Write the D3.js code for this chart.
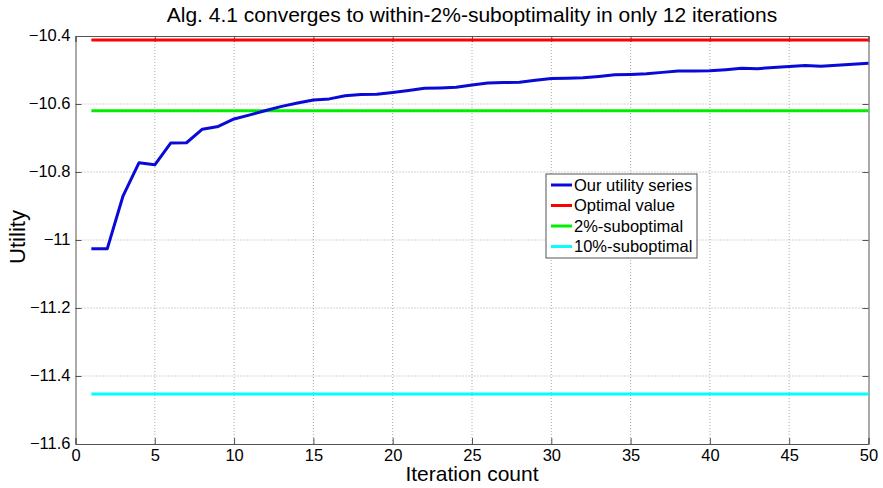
<!DOCTYPE html>
<html><head><meta charset="utf-8">
<script src="https://cdn.jsdelivr.net/npm/d3@7"></script>
<style>body{margin:0;background:#fff;} svg{display:block;} text{font-family:"Liberation Sans",Arial,sans-serif;}</style>
</head><body>
<script>
const iterations = d3.range(1, 51);
const utility = [-11.026,-11.026,-10.870,-10.773,-10.779,-10.715,-10.714,-10.674,-10.666,-10.644,
  -10.632,-10.619,-10.607,-10.597,-10.588,-10.585,-10.576,-10.572,-10.571,-10.566,
  -10.560,-10.554,-10.553,-10.551,-10.544,-10.538,-10.537,-10.536,-10.530,-10.525,
  -10.524,-10.523,-10.519,-10.514,-10.513,-10.511,-10.507,-10.503,-10.503,-10.502,
  -10.499,-10.495,-10.496,-10.493,-10.490,-10.487,-10.489,-10.486,-10.483,-10.480];
const optimalValue = -10.412;
const subopt2 = -10.620;
const subopt10 = -11.453;
const xTicks = [0,5,10,15,20,25,30,35,40,45,50];
const yTicks = [-10.4,-10.6,-10.8,-11,-11.2,-11.4,-11.6];
const legendLabels = ["Our utility series","Optimal value","2%-suboptimal","10%-suboptimal"];
const colors = ["#0a0ad8","#ff0000","#00ee00","#00ffff"];

const W = 883, H = 488;
const m = {left:75.5, right:W-868.5, top:36, bottom:H-444};
const svg = d3.select("body").append("svg").attr("width",W).attr("height",H);
const x = d3.scaleLinear().domain([0,50]).range([m.left, W-m.right]);
const y = d3.scaleLinear().domain([-11.6,-10.4]).range([H-m.bottom, m.top]);

// grid
const g = svg.append("g");
g.selectAll(".gx").data(xTicks.slice(1,-1)).join("line")
 .attr("x1",d=>x(d)).attr("x2",d=>x(d)).attr("y1",y(-11.6)).attr("y2",y(-10.4))
 .attr("stroke","#aaa").attr("stroke-width",1).attr("stroke-dasharray","1,2");
g.selectAll(".gy").data(yTicks.slice(1,-1)).join("line")
 .attr("y1",d=>y(d)).attr("y2",d=>y(d)).attr("x1",x(0)).attr("x2",x(50))
 .attr("stroke","#aaa").attr("stroke-width",1).attr("stroke-dasharray","1,2");

// axes
const xAxis = d3.axisBottom(x).tickValues(xTicks).tickSize(-6).tickPadding(10).tickFormat(d3.format("d"));
const yAxis = d3.axisLeft(y).tickValues(yTicks).tickSize(-6).tickPadding(5).tickFormat(d=>d3.format("")(d));
const xa = svg.append("g").attr("transform",`translate(0,${y(-11.6)})`).call(xAxis);
const ya = svg.append("g").attr("transform",`translate(${x(0)},0)`).call(yAxis);
const xt = svg.append("g").attr("transform",`translate(0,${y(-10.4)})`).call(d3.axisTop(x).tickValues(xTicks).tickSize(-6).tickFormat(""));
const yr = svg.append("g").attr("transform",`translate(${x(50)},0)`).call(d3.axisRight(y).tickValues(yTicks).tickSize(-6).tickFormat(""));
[xa,ya,xt,yr].forEach(a=>{
  a.selectAll("path,line").attr("stroke","#555");
  a.selectAll("text").attr("fill","#000").style("font-size","16.5px").style("font-family","'Liberation Sans',Arial,sans-serif");
});
xa.selectAll("text").attr("dy","0.4em");
ya.selectAll("text").attr("dy","0.3em");

// horizontal reference lines
const refs = [optimalValue, subopt2, subopt10];
svg.selectAll(".ref").data(refs).join("line")
 .attr("x1",x(1)).attr("x2",x(50)).attr("y1",d=>y(d)).attr("y2",d=>y(d))
 .attr("stroke",(d,i)=>colors[i+1]).attr("stroke-width",3);

// utility series
const line = d3.line().x((d,i)=>x(iterations[i])).y(d=>y(d));
svg.append("path").datum(utility).attr("d",line).attr("fill","none")
 .attr("stroke",colors[0]).attr("stroke-width",3).attr("stroke-linejoin","round");

// legend
const lg = svg.append("g").attr("transform","translate(546,174)");
lg.append("rect").attr("width",151).attr("height",84).attr("fill","#fff").attr("stroke","#555").attr("stroke-width",1);
legendLabels.forEach((t,i)=>{
  const yy = 11 + i*20.5;
  lg.append("line").attr("x1",5).attr("x2",26).attr("y1",yy).attr("y2",yy).attr("stroke",colors[i]).attr("stroke-width",3);
  lg.append("text").attr("x",28).attr("y",yy).attr("dy","0.36em").style("font-size","16.5px").text(t);
});

// titles
svg.append("text").attr("x",472).attr("y",22).attr("text-anchor","middle").style("font-size","21px")
 .text("Alg. 4.1 converges to within-2%-suboptimality in only 12 iterations");
svg.append("text").attr("x",472).attr("y",481).attr("text-anchor","middle").style("font-size","21px").text("Iteration count");
svg.append("text").attr("transform","translate(25,237) rotate(-90)").attr("text-anchor","middle").style("font-size","22px").text("Utility");
</script>
</body></html>
